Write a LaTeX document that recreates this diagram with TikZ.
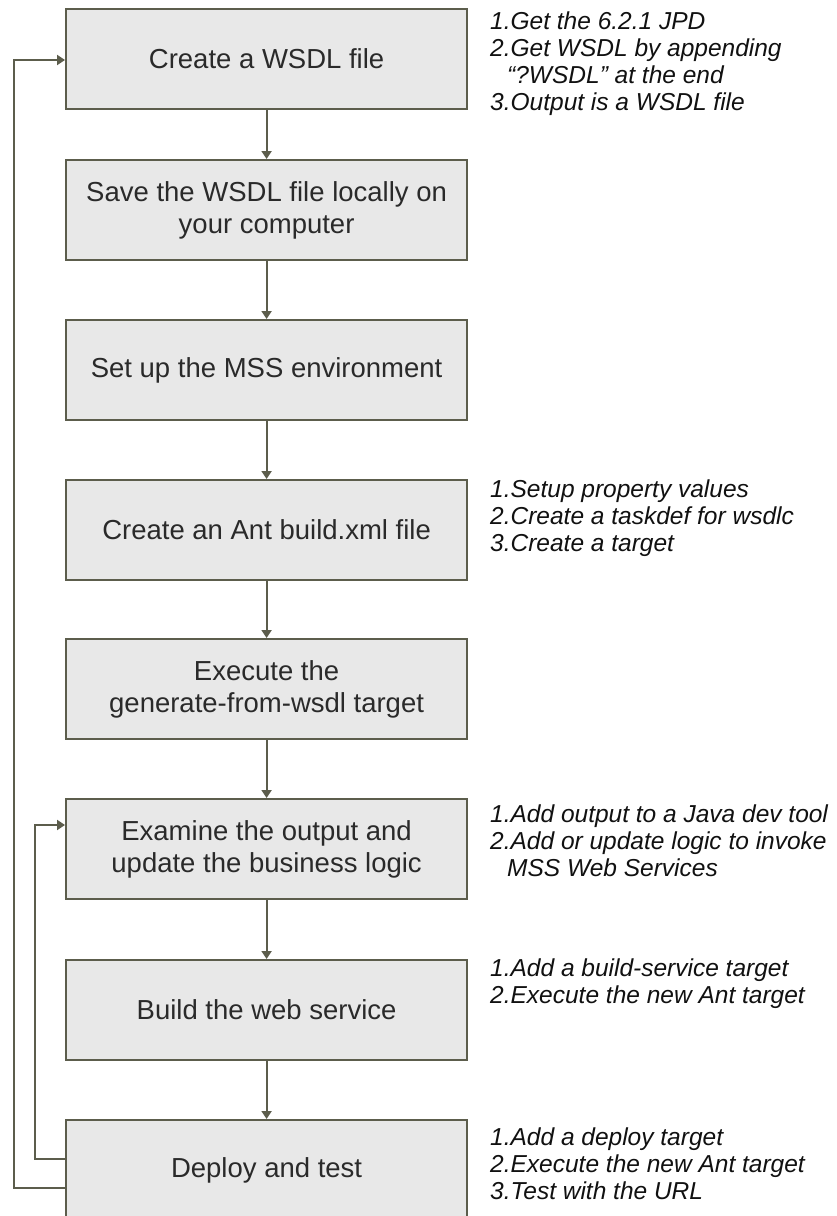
\documentclass[tikz,border=0pt]{standalone}
\usepackage{fontspec}
\setmainfont{Liberation Sans}
\usetikzlibrary{arrows.meta}
\definecolor{boxfill}{HTML}{E8E8E8}
\definecolor{boxline}{HTML}{5C5D4C}
\definecolor{boxtext}{HTML}{2A2A2A}
\definecolor{notetext}{HTML}{111111}
\newcommand{\notelines}[1]{\parbox[t]{345pt}{\raggedright #1}}
\begin{document}
\begin{tikzpicture}[x=1pt,y=-1pt,
  stepbox/.style={draw=boxline, line width=2.2pt, fill=boxfill, minimum width=401pt,
    minimum height=100pt, inner sep=0pt, anchor=north west, align=center,
    text=boxtext, font=\fontsize{27.5}{32}\selectfont},
  note/.style={anchor=base west, inner sep=0pt, text=notetext,
    font=\fontsize{24.5}{27}\selectfont\itshape},
  flow/.style={draw=boxline, line width=2pt, -{Triangle[length=8pt,width=10pt]}},
  loopline/.style={draw=boxline, line width=2pt, -{Triangle[length=8pt,width=10pt]}}
]
\clip (0,0) rectangle (837,1216);
\fill[white] (0,0) rectangle (837,1216);

\node[stepbox] (b1) at (65,8)    {Create a WSDL file};
\node[stepbox] (b2) at (65,159)  {Save the WSDL file locally on\\your computer};
\node[stepbox] (b3) at (65,319)  {Set up the MSS environment};
\node[stepbox] (b4) at (65,479)  {Create an Ant build.xml file};
\node[stepbox] (b5) at (65,638)  {Execute the\\generate-from-wsdl target};
\node[stepbox] (b6) at (65,798)  {Examine the output and\\update the business logic};
\node[stepbox] (b7) at (65,959)  {Build the web service};
\node[stepbox] (b8) at (65,1119) {Deploy and test};

\draw[flow] (b1) -- (b2);
\draw[flow] (b2) -- (b3);
\draw[flow] (b3) -- (b4);
\draw[flow] (b4) -- (b5);
\draw[flow] (b5) -- (b6);
\draw[flow] (b6) -- (b7);
\draw[flow] (b7) -- (b8);

\draw[loopline] (b8.west |- 0,1188) -- (14,1188) -- (14,60) -- (b1.west |- 0,60);
\draw[loopline] (b8.west |- 0,1159) -- (35,1159) -- (35,825) -- (b6.west |- 0,825);

\node[note] (n1) at (490,29) {\notelines{1.Get the 6.2.1 JPD\\2.Get WSDL by appending\\\hspace*{17pt}“?WSDL” at the end\\3.Output is a WSDL file}};
\node[note] (n4) at (490,497) {\notelines{1.Setup property values\\2.Create a taskdef for wsdlc\\3.Create a target}};
\node[note] (n6) at (490,822) {\notelines{1.Add output to a Java dev tool\\2.Add or update logic to invoke\\\hspace*{17pt}MSS Web Services}};
\node[note] (n7) at (490,976) {\notelines{1.Add a build-service target\\2.Execute the new Ant target}};
\node[note] (n8) at (490,1145) {\notelines{1.Add a deploy target\\2.Execute the new Ant target\\3.Test with the URL}};
\end{tikzpicture}
\end{document}
